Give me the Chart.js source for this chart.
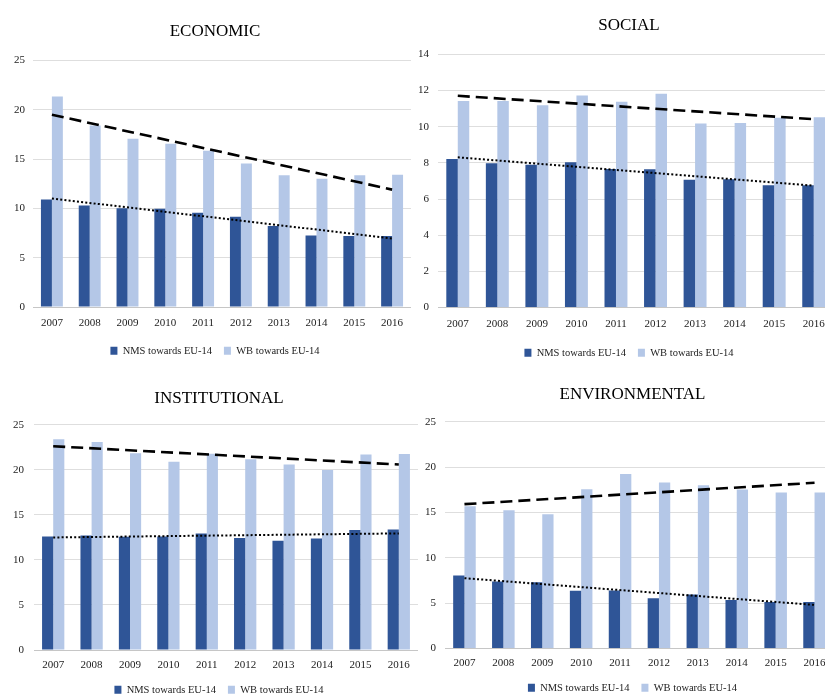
<!DOCTYPE html>
<html>
<head>
<meta charset="utf-8">
<script src="https://cdn.jsdelivr.net/npm/chart.js@4.4.1/dist/chart.umd.min.js"></script>
<style>
  body { margin: 0; background: #fff; width: 825px; height: 695px; overflow: hidden; position: relative; }
  .panel { position: absolute; }
</style>
</head>
<body>
<div class="panel" style="left:0;top:0;width:430px;height:366px"><canvas id="econChart"></canvas></div>
<div class="panel" style="left:0;top:365px;width:438px;height:340px"><canvas id="instChart"></canvas></div>
<div class="panel" style="left:412px;top:0;width:434px;height:368px"><canvas id="socChart"></canvas></div>
<div class="panel" style="left:412px;top:365px;width:441px;height:338px"><canvas id="envChart"></canvas></div>
<script>
const years = ['2007', '2008', '2009', '2010', '2011', '2012', '2013', '2014', '2015', '2016'];
const seriesNames = ['NMS towards EU-14', 'WB towards EU-14'];

// ECONOMIC
const econNms = [10.9, 10.3, 10.0, 9.95, 9.55, 9.15, 8.2, 7.25, 7.2, 7.2];
const econWb = [21.35, 18.4, 17.05, 16.55, 15.85, 14.55, 13.35, 13.0, 13.35, 13.4];
const econTrendWb = [19.5, 11.9];   // valor en 2007 y en 2016
const econTrendNms = [11.0, 6.95];

// SOCIAL
const socNms = [8.22, 7.98, 7.9, 8.03, 7.67, 7.65, 7.07, 7.09, 6.77, 6.77];
const socWb = [11.43, 11.43, 11.19, 11.73, 11.38, 11.82, 10.18, 10.21, 10.5, 10.53];
const socTrendWb = [11.71, 10.42];
const socTrendNms = [8.31, 6.74];

// INSTITUTIONAL
const instNms = [12.6, 12.72, 12.57, 12.6, 12.94, 12.43, 12.13, 12.39, 13.32, 13.39];
const instWb = [23.4, 23.1, 21.85, 20.9, 21.8, 21.18, 20.59, 20.0, 21.7, 21.77];
const instTrendWb = [22.63, 20.6];
const instTrendNms = [12.5, 12.95];

// ENVIRONMENTAL
const envNms = [8.05, 7.39, 7.31, 6.35, 6.39, 5.54, 5.95, 5.35, 5.13, 5.13];
const envWb = [15.69, 15.25, 14.81, 17.58, 19.24, 18.32, 18.02, 17.54, 17.21, 17.21];
const envTrendWb = [15.92, 18.28];
const envTrendNms = [7.75, 4.8];

const nmsColor = '#2F5597';
const wbColor = '#B4C7E7';
const serif = "'Liberation Serif', 'Times New Roman', serif";

// tendencia: solo primer y ultimo año, la linea se traza entre ellos
function trendData(ends) {
    return years.map((_, i) => i === 0 ? ends[0] : (i === years.length - 1 ? ends[1] : null));
}

function makeChart(id, title, nms, wb, trendWb, trendNms, yMax, yStep, g) {
    const ctx = document.getElementById(id);
    new Chart(ctx, {
        type: 'bar',
        data: {
            labels: years,
            datasets: [
                { label: seriesNames[0], data: nms, backgroundColor: nmsColor, borderColor: nmsColor, borderWidth: 0, order: 1 },
                { label: seriesNames[1], data: wb, backgroundColor: wbColor, borderColor: wbColor, borderWidth: 0, order: 1 },
                { type: 'line', label: 'trendWb', data: trendData(trendWb), borderColor: '#000', borderWidth: 2.6,
                  borderDash: [12, 6], pointRadius: 0, spanGaps: true, fill: false, order: 0 },
                { type: 'line', label: 'trendNms', data: trendData(trendNms), borderColor: '#000', borderWidth: 2,
                  borderDash: [2, 2.2], pointRadius: 0, spanGaps: true, fill: false, order: 0 }
            ]
        },
        options: {
            responsive: true,
            maintainAspectRatio: false,
            animation: false,
            categoryPercentage: 0.58,
            barPercentage: 1.0,
            layout: { padding: 0 },
            plugins: {
                title: {
                    display: true,
                    text: title,
                    color: '#000',
                    font: { family: serif, size: 17, weight: 'normal' },
                    padding: { top: g.titleTop, bottom: g.titleBottom }
                },
                legend: {
                    position: 'bottom',
                    labels: {
                        filter: item => item.datasetIndex < 2,
                        color: '#222',
                        font: { family: serif, size: 10.5 },
                        boxWidth: 7,
                        boxHeight: 8,
                        padding: 12
                    }
                },
                tooltip: { enabled: false }
            },
            scales: {
                x: {
                    afterFit: (scale) => { scale.height = g.xHeight; },
                    grid: { display: false, drawTicks: false },
                    border: { display: false },
                    ticks: { color: '#222', font: { family: serif, size: 11 }, padding: g.xPad }
                },
                y: {
                    min: 0,
                    max: yMax,
                    afterFit: (scale) => { scale.width = g.yWidth; },
                    grid: {
                        drawTicks: false,
                        color: (c) => c.tick.value === 0 ? '#c6c6c6' : '#dedede',
                        lineWidth: 1
                    },
                    border: { display: false },
                    ticks: { stepSize: yStep, color: '#222', font: { family: serif, size: 11 }, padding: g.yPad }
                },
                // eje vacio a la derecha: solo deja el hueco del recorte
                yRight: {
                    type: 'linear',
                    position: 'right',
                    afterFit: (scale) => { scale.width = g.padRight; },
                    grid: { display: false },
                    border: { display: false },
                    ticks: { display: false }
                }
            }
        }
    });
}

makeChart('econChart', 'ECONOMIC', econNms, econWb, econTrendWb, econTrendNms, 25, 5,
    { padRight: 19, yWidth: 33, yPad: 8, titleTop: 21, titleBottom: 19, xPad: 9.7, xHeight: 26.5 });
makeChart('socChart', 'SOCIAL', socNms, socWb, socTrendWb, socTrendNms, 14, 2,
    { padRight: 12.5, yWidth: 26, yPad: 9, titleTop: 15, titleBottom: 19, xPad: 10.1, xHeight: 27.9 });
makeChart('instChart', 'INSTITUTIONAL', instNms, instWb, instTrendWb, instTrendNms, 25, 5,
    { padRight: 20, yWidth: 34, yPad: 10, titleTop: 23, titleBottom: 16.5, xPad: 8.4, xHeight: 22.5 });
makeChart('envChart', 'ENVIRONMENTAL', envNms, envWb, envTrendWb, envTrendNms, 25, 5,
    { padRight: 19, yWidth: 33, yPad: 9, titleTop: 19, titleBottom: 17.5, xPad: 8.3, xHeight: 22.1 });
</script>
</body>
</html>
